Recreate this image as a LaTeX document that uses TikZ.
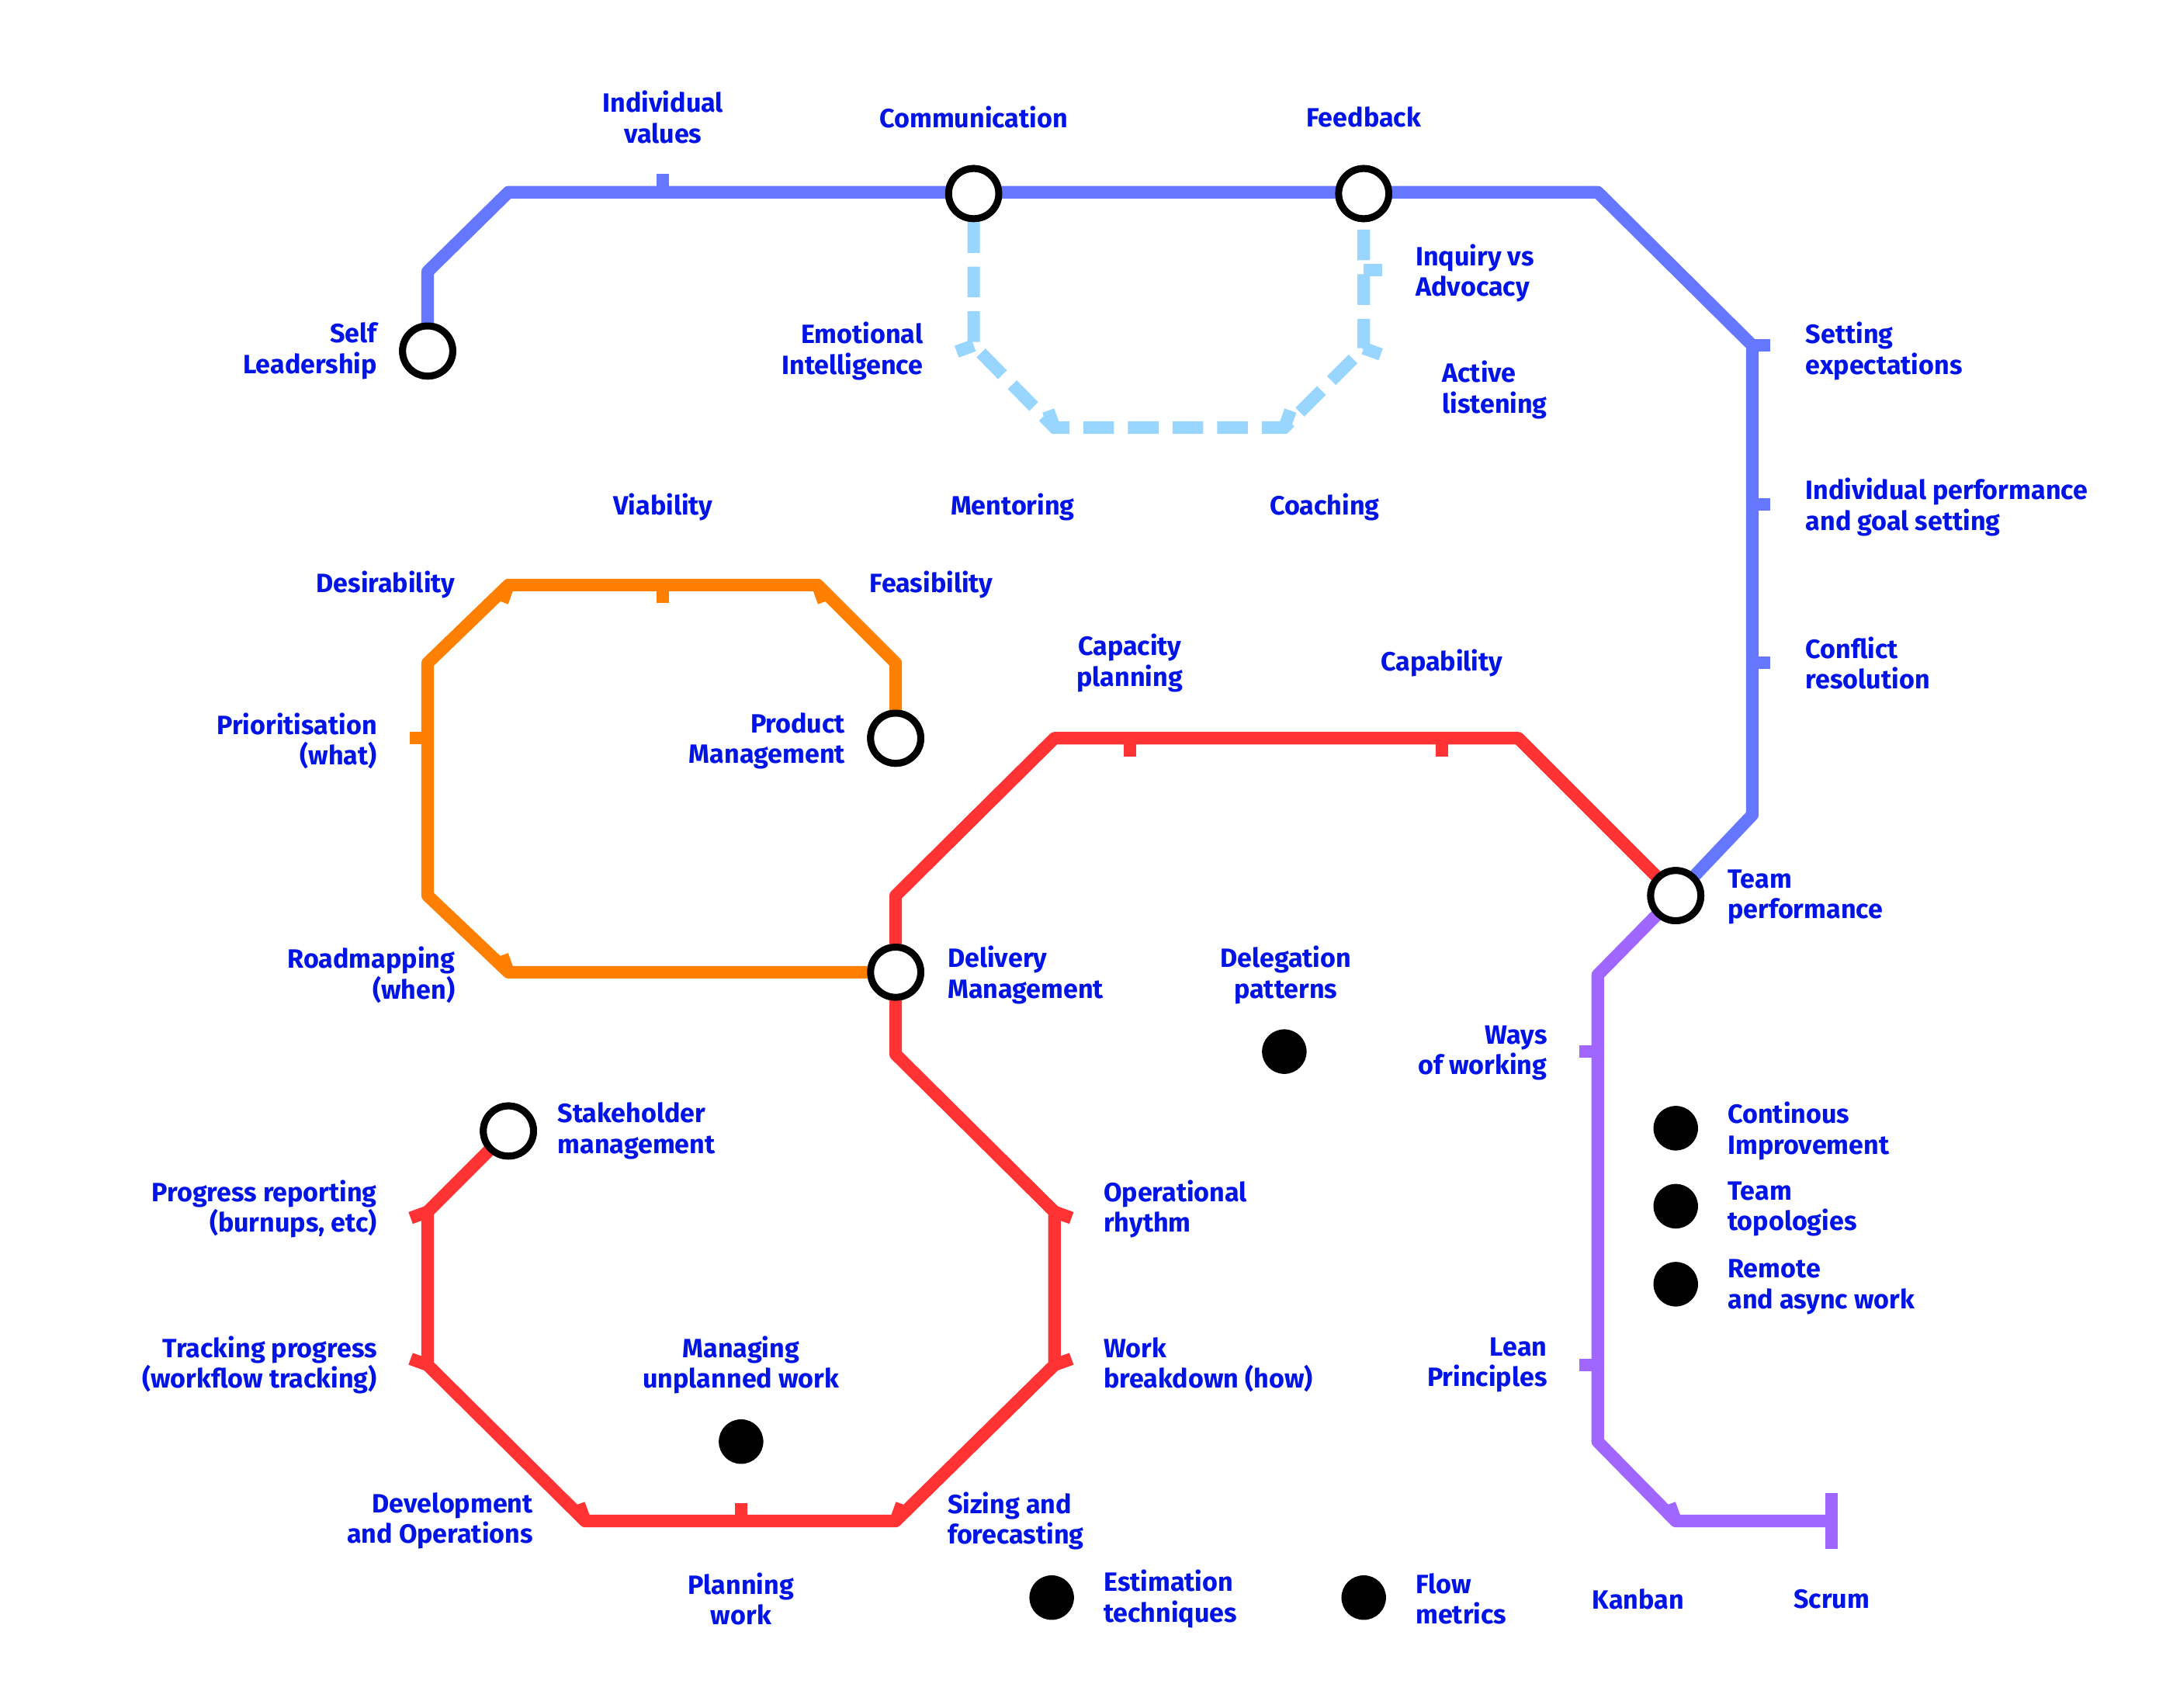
\documentclass[tikz,border=0pt]{standalone}
\usepackage{fontspec}
\setmainfont{Fira Sans}
\definecolor{lblue}{RGB}{102,119,255}
\definecolor{sky}{RGB}{153,214,255}
\definecolor{orng}{RGB}{255,127,0}
\definecolor{rd}{RGB}{255,51,51}
\definecolor{purp}{RGB}{160,102,255}
\definecolor{txt}{RGB}{0,20,230}
\tikzset{every picture/.style={line width=0.75pt}}
\tikzset{
  line/.style={line width=9pt, line join=round},
  stop/.style={circle, draw=black, fill=white, line width=5pt, minimum size=36pt, inner sep=0pt},
  dot/.style={circle, fill=black, minimum size=32pt, inner sep=0pt},
  lbl/.style={text=txt, font=\fontsize{19}{22}\selectfont\bfseries, inner sep=0pt},
  lw/.style={lbl, anchor=west, align=left},
  le/.style={lbl, anchor=east, align=right},
  lc/.style={lbl, align=center},
}
\newcommand{\tk}[3]{\draw[line width=9pt, #1] (#2) -- ++(#3:13);}

\begin{document}
\begin{tikzpicture}[x=1pt,y=-1pt]
\useasboundingbox (0,0) rectangle (1560,1226);

% stations
\node[stop] (self) at (307,252) {};
\node[stop] (comm) at (699,139) {};
\node[stop] (feed) at (979,139) {};
\node[stop] (team) at (1203,643) {};
\node[stop] (prod) at (643,530) {};
\node[stop] (deliv) at (643,698) {};
\node[stop] (stake) at (365,812) {};

% Leadership line
\draw[line, lblue] (self.center) -- (307,195) -- (365,138) -- (1147,138) -- (1258,248) -- (1258,585) -- (team.center);
\tk{lblue}{476,138}{-90}
\tk{lblue}{1258,248}{0}
\tk{lblue}{1258,362}{0}
\tk{lblue}{1258,476}{0}

% coaching loop
\draw[line, sky, dash pattern=on 22pt off 10pt, line join=miter] (comm) -- (699,248) -- (757,307) -- (922,307) -- (979,250) -- (feed);
\tk{sky}{699,248}{160}
\tk{sky}{757,307}{-110}
\tk{sky}{922,307}{-70}
\tk{sky}{979,250}{20}
\tk{sky}{979,194}{0}

% product line
\draw[line, orng] (prod.center) -- (643,476) -- (587,420) -- (365,420) -- (307,476) -- (307,643) -- (365,698) -- (deliv.center);
\tk{orng}{365,420}{110}
\tk{orng}{476,420}{90}
\tk{orng}{587,420}{70}
\tk{orng}{307,530}{180}
\tk{orng}{365,698}{-110}

% delivery lines
\draw[line, rd] (deliv.center) -- (643,643) -- (757,530) -- (1090,530) -- (team.center);
\draw[line, rd] (deliv.center) -- (643,757) -- (757,870) -- (757,980) -- (643,1092) -- (420,1092) -- (307,980) -- (307,870) -- (stake.center);
\tk{rd}{811,530}{90}
\tk{rd}{1035,530}{90}
\tk{rd}{757,870}{20}
\tk{rd}{757,980}{-20}
\tk{rd}{643,1092}{-70}
\tk{rd}{532,1092}{-90}
\tk{rd}{420,1092}{-110}
\tk{rd}{307,980}{200}
\tk{rd}{307,870}{160}

% ways of working
\draw[line, purp] (team.center) -- (1147,700) -- (1147,1035) -- (1203,1092) -- (1315,1092);
\tk{purp}{1147,755}{180}
\tk{purp}{1147,980}{180}
\tk{purp}{1203,1092}{-110}
\draw[line width=9pt, purp] (1315,1072) -- (1315,1112);

% stations on top
\foreach \n in {self,comm,feed,team,prod,deliv,stake}
  \node[stop] at (\n) {};

% dots
\node[dot] (deleg) at (922,755) {};
\node[dot] (unpl) at (532,1035) {};
\node[dot] (cont) at (1203,810) {};
\node[dot] (topo) at (1203,866) {};
\node[dot] (remote) at (1203,922) {};
\node[dot] (estim) at (755,1147) {};
\node[dot] (flow) at (979,1147) {};

% labels
\node[le] (tSelf) at (271,252) {Self\\Leadership};
\node[lc] (tIndiv) at (476,84) {Individual\\values};
\node[lc] (tComm) at (699,84) {Communication};
\node[lc] (tFeed) at (979,84) {Feedback};
\node[lw] (tInq) at (1016,196) {Inquiry vs\\Advocacy};
\node[le] (tEmo) at (663,252) {Emotional\\Intelligence};
\node[lw] (tAct) at (1035,280) {Active\\listening};
\node[lc] (tMent) at (727,364) {Mentoring};
\node[lc] (tCoach) at (951,364) {Coaching};
\node[lw] (tSet) at (1296,252) {Setting\\expectations};
\node[lw] (tPerf) at (1296,364) {Individual performance\\and goal setting};
\node[lw] (tConf) at (1296,476) {Conflict\\resolution};
\node[lc] (tViab) at (476,364) {Viability};
\node[le] (tDes) at (327,420) {Desirability};
\node[lw] (tFeas) at (624,420) {Feasibility};
\node[le] (tPrio) at (271,532) {Prioritisation\\(what)};
\node[le] (tProd) at (607,532) {Product\\Management};
\node[lc] (tCap) at (811,476) {Capacity\\planning};
\node[lc] (tCapab) at (1035,476) {Capability};
\node[lw] (tTeam) at (1240,644) {Team\\performance};
\node[le] (tRoad) at (327,700) {Roadmapping\\(when)};
\node[lw] (tDeliv) at (680,700) {Delivery\\Management};
\node[lc] (tDeleg) at (923,700) {Delegation\\patterns};
\node[le] (tWays) at (1111,756) {Ways\\of working};
\node[lw] (tStake) at (400,812) {Stakeholder\\management};
\node[lw] (tCont) at (1240,812) {Continous\\Improvement};
\node[le] (tProg) at (271,868) {Progress reporting\\(burnups, etc)};
\node[lw] (tOper) at (792,868) {Operational\\rhythm};
\node[lw] (tTopo) at (1240,868) {Team\\topologies};
\node[lw] (tRem) at (1240,924) {Remote\\and async work};
\node[le] (tTrack) at (271,980) {Tracking progress\\(workflow tracking)};
\node[lc] (tUnpl) at (532,980) {Managing\\unplanned work};
\node[lw] (tWork) at (792,980) {Work\\breakdown (how)};
\node[le] (tLean) at (1111,980) {Lean\\Principles};
\node[le] (tDev) at (383,1092) {Development\\and Operations};
\node[lw] (tSize) at (680,1092) {Sizing and\\forecasting};
\node[lc] (tPlan) at (532,1148) {Planning\\work};
\node[lw] (tEst) at (792,1148) {Estimation\\techniques};
\node[lw] (tFlow) at (1016,1148) {Flow\\metrics};
\node[lc] (tKan) at (1176,1148) {Kanban};
\node[lc] (tScrum) at (1315,1148) {Scrum};
\end{tikzpicture}
\end{document}
